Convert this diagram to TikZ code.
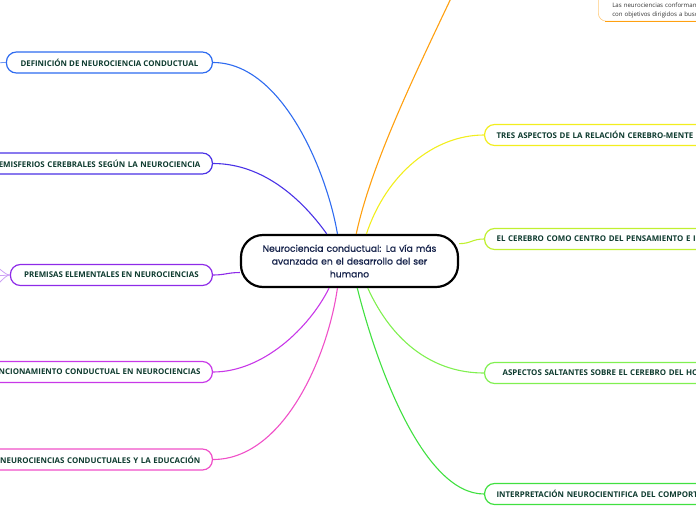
\documentclass[tikz,border=0pt]{standalone}
\usepackage{fontspec}
\setmainfont{Open Sans}
\newfontfamily\titlefont[FakeBold=0.7]{Poppins}
\definecolor{txt}{HTML}{0E3B2F}
\definecolor{navy}{HTML}{15224A}
\definecolor{cblue}{HTML}{2E6BF0}
\definecolor{cindigo}{HTML}{4A32E6}
\definecolor{cpurple}{HTML}{8E2BE8}
\definecolor{cmagenta}{HTML}{C838E8}
\definecolor{cpink}{HTML}{F050C8}
\definecolor{corange}{HTML}{FFA010}
\definecolor{cyellow}{HTML}{F2EE1E}
\definecolor{cyg}{HTML}{C0F030}
\definecolor{clg}{HTML}{80F050}
\definecolor{cgreen}{HTML}{40E040}
\tikzset{
  branch/.style={draw=#1, line width=1.2pt, rounded corners=10pt, minimum height=21pt,
    inner xsep=12pt, inner ysep=0pt, fill=white, text=txt,
    font=\bfseries\fontsize{7.9}{9}\selectfont},
  conn/.style={draw=#1, line width=1.1pt},
  subconn/.style={draw=#1, line width=0.8pt}
}
\begin{document}
\begin{tikzpicture}[x=1pt,y=-1pt]
\useasboundingbox (0,0) rectangle (696,520);
\clip (0,0) rectangle (696,520);
% center
\node[draw=black, line width=2.2pt, rounded corners=22pt, minimum width=217pt, minimum height=52pt,
  text width=200pt, align=center, text=navy, font=\titlefont\fontsize{9.2}{12.8}\selectfont, fill=white]
  (c) at (349.5,261) {Neurociencia conductual: La vía más\\avanzada en el desarrollo del ser\\humano};
% left branches
\node[branch=cblue, anchor=east, minimum width=206pt] (b1) at (213,62.5) {DEFINICIÓN DE NEUROCIENCIA CONDUCTUAL};
\node[branch=cindigo, anchor=east, text width=260pt, align=right] (b2) at (213,163.5) {HEMISFERIOS CEREBRALES SEGÚN LA NEUROCIENCIA};
\node[branch=cpurple, anchor=east, minimum width=202pt] (b3) at (213,275) {PREMISAS ELEMENTALES EN NEUROCIENCIAS};
\node[branch=cmagenta, anchor=east, text width=260pt, align=right] (b4) at (213,372) {FUNCIONAMIENTO CONDUCTUAL EN NEUROCIENCIAS};
\node[branch=cpink, anchor=east, text width=260pt, align=right] (b5) at (213,459.5) {NEUROCIENCIAS CONDUCTUALES Y LA EDUCACIÓN};
% right branches
\node[branch=cyellow, anchor=west, text width=260pt, align=left] (b7) at (484,135) {TRES ASPECTOS DE LA RELACIÓN CEREBRO-MENTE};
\node[branch=cyg, anchor=west, text width=260pt, align=left] (b8) at (484,239) {EL CEREBRO COMO CENTRO DEL PENSAMIENTO E INTELIGENCIA};
\node[branch=clg, anchor=west, text width=254pt, align=left, inner xsep=18pt] (b9) at (484,373) {ASPECTOS SALTANTES SOBRE EL CEREBRO DEL HOMBRE};
\node[branch=cgreen, anchor=west, text width=260pt, align=left] (b10) at (484,494) {INTERPRETACIÓN NEUROCIENTIFICA DEL COMPORTAMIENTO};
% top right sub node
\node[draw=corange!55!white, line width=0.6pt, rounded corners=8pt, anchor=south west, fill=white,
  text width=230pt, align=left, inner xsep=14pt, inner ysep=3pt, text=black!80,
  font=\fontsize{6.1}{9}\selectfont] (tr) at (598,21.5)
  {\rule{0pt}{24pt}Las neurociencias conforman un conjunto de disciplinas\\con objetivos dirigidos a buscar};
\draw[corange, line width=1.3pt] ([xshift=7pt]tr.south west) -- (tr.south east);
% free ends
\coordinate (oend) at (462,-25);
\coordinate (l1) at (-6,63);
\coordinate (p1) at (-6,266);
\coordinate (p2) at (-6,276);
\coordinate (p3) at (-6,286);
% connectors
\draw[conn=cblue] (b1.east) .. controls +(70,0) and +(-10,-60) .. (c.114);
\draw[conn=cindigo] (b2.east) .. controls +(50,0) and +(-25,-35) .. (c.130);
\draw[conn=cpurple] (b3.east) .. controls +(12,0) and +(-12,0) .. (c.186);
\draw[conn=cmagenta] (b4.east) .. controls +(50,0) and +(-20,40) .. (c.233);
\draw[conn=cpink] (b5.east) .. controls +(70,0) and +(-10,70) .. (c.246);
\draw[conn=corange] (c.76) .. controls +(16,-75) and +(-40,85) .. (oend);
\draw[conn=cyellow] (c.58) .. controls +(20,-60) and +(-50,0) .. (b7.west);
\draw[conn=cyg] (c.9) .. controls +(12,0) and +(-12,0) .. (b8.west);
\draw[conn=clg] (c.304) .. controls +(25,55) and +(-50,0) .. (b9.west);
\draw[conn=cgreen] (c.286) .. controls +(20,80) and +(-60,0) .. (b10.west);
\draw[subconn=cblue!70] (b1.west) .. controls +(-4,0) and +(3,0) .. (l1);
\draw[subconn=cpurple!45] (b3.west) .. controls +(-5,0) and +(4,0) .. (p1);
\draw[subconn=cpurple!45] (b3.west) -- (p2);
\draw[subconn=cpurple!45] (b3.west) .. controls +(-5,0) and +(4,0) .. (p3);
\end{tikzpicture}
\end{document}
